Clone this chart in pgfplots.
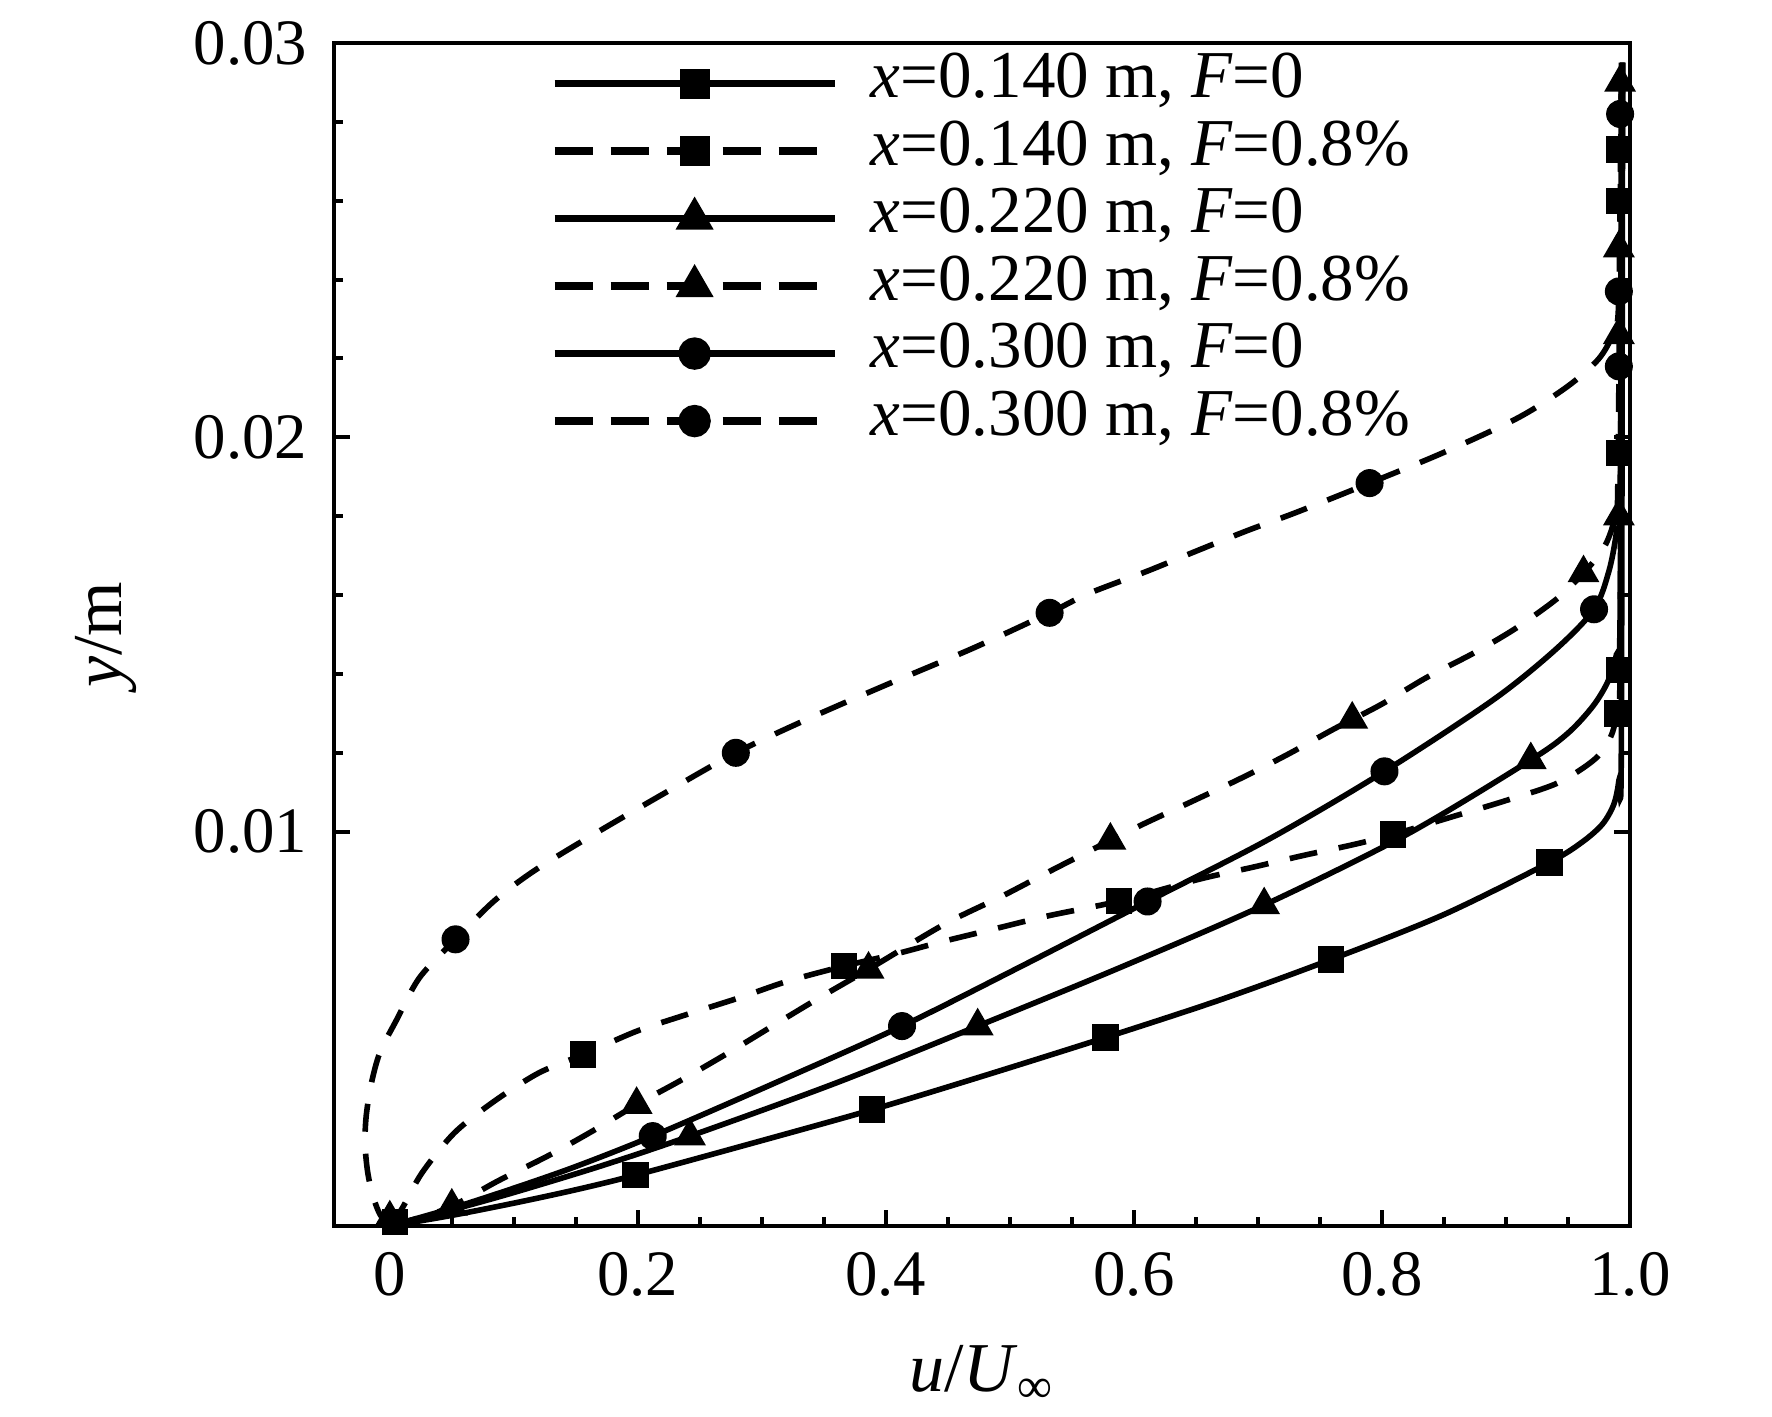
\documentclass[border=0pt]{standalone}
\usepackage{fontspec}
\setmainfont{Liberation Serif}
\usepackage{pgfplots}
\pgfplotsset{compat=1.18}
\usepackage{pgfplotstable}

% x=0.140 m, F=0
\pgfplotstableread{
u y
0 0
0.05 0.00027
0.10 0.00058
0.15 0.00092
0.198 0.00129
0.29 0.00208
0.389 0.00295
0.48 0.00382
0.577 0.00478
0.67 0.00574
0.759 0.00676
0.85 0.00790
0.935 0.00922
0.962 0.00975
0.978 0.01020
0.987 0.01070
0.991 0.01130
0.993 0.01220
0.994 0.02950
}\curveA
\pgfplotstableread{
u y
0.004 0.00010
0.198 0.00129
0.389 0.00295
0.577 0.00478
0.759 0.00676
0.935 0.00922
0.990 0.0130
0.991 0.0196
}\marksA

% x=0.140 m, F=0.8%
\pgfplotstableread{
u y
0 0
0.010 0.00045
0.026 0.00135
0.052 0.00236
0.084 0.00316
0.120 0.00388
0.156 0.00435
0.199 0.00494
0.239 0.00536
0.282 0.00579
0.321 0.00621
0.366 0.00659
0.408 0.00690
0.444 0.00720
0.483 0.00750
0.530 0.00786
0.588 0.00824
0.652 0.00879
0.696 0.00910
0.737 0.00940
0.778 0.00968
0.809 0.00993
0.860 0.01041
0.901 0.01080
0.942 0.01124
0.972 0.01185
0.985 0.01245
0.990 0.01320
0.992 0.01450
0.993 0.02950
}\curveB
\pgfplotstableread{
u y
0.156 0.00435
0.366 0.00659
0.588 0.00824
0.809 0.00993
0.991 0.0141
0.991 0.0260
0.991 0.0273
}\marksB

% x=0.220 m, F=0
\pgfplotstableread{
u y
0 0
0.05 0.00041
0.10 0.00085
0.17 0.00152
0.242 0.00228
0.36 0.00363
0.474 0.00507
0.59 0.00657
0.705 0.00814
0.82 0.00993
0.920 0.01182
0.950 0.01250
0.970 0.01318
0.982 0.01380
0.989 0.01449
0.992 0.01550
0.994 0.02950
}\curveC
\pgfplotstableread{
u y
0.000 0.0002
0.242 0.00228
0.474 0.00507
0.705 0.00814
0.920 0.01182
0.991 0.0226
0.992 0.0290
}\marksC

% x=0.220 m, F=0.8%
\pgfplotstableread{
u y
0 0
0.025 0.00022
0.05 0.0005
0.087 0.00114
0.127 0.00177
0.163 0.00240
0.199 0.00308
0.235 0.00370
0.275 0.00443
0.310 0.00510
0.347 0.00580
0.386 0.00651
0.447 0.00765
0.494 0.00837
0.533 0.00901
0.581 0.00978
0.608 0.01020
0.647 0.01077
0.686 0.01135
0.724 0.01196
0.761 0.01260
0.799 0.01322
0.836 0.01391
0.874 0.01453
0.908 0.01516
0.942 0.01593
0.9625 0.01656
0.978 0.01715
0.986 0.01775
0.990 0.01850
0.993 0.02950
}\curveD
\pgfplotstableread{
u y
0.05 0.0005
0.199 0.00308
0.386 0.00651
0.581 0.00978
0.776 0.01285
0.9625 0.01656
0.991 0.0180
0.991 0.0248
}\marksD

% x=0.300 m, F=0
\pgfplotstableread{
u y
0 0
0.05 0.00045
0.10 0.00096
0.15 0.00151
0.212 0.00228
0.31 0.00362
0.413 0.00507
0.51 0.00660
0.611 0.00823
0.71 0.00983
0.802 0.01153
0.89 0.01335
0.940 0.01462
0.971 0.01564
0.983 0.01661
0.989 0.01758
0.992 0.01860
0.994 0.02950
}\curveE
\pgfplotstableread{
u y
0.212 0.00228
0.413 0.00507
0.611 0.00823
0.802 0.01153
0.971 0.01564
0.991 0.0218
0.992 0.0282
}\marksE

% x=0.300 m, F=0.8%
\pgfplotstableread{
u y
0 0
-0.008 0.0003
-0.014 0.0008
-0.018 0.0014
-0.020 0.0021
-0.019 0.0028
-0.015 0.0036
-0.008 0.0044
0.005 0.0052
0.024 0.0063
0.053 0.00727
0.084 0.00824
0.116 0.00900
0.16 0.00985
0.22 0.01095
0.279 0.01200
0.34 0.01290
0.40 0.01372
0.47 0.01465
0.532 0.01555
0.5635 0.01604
0.611 0.01661
0.649 0.01710
0.691 0.01763
0.732 0.01811
0.790 0.01884
0.85 0.01962
0.91 0.02050
0.950 0.02130
0.975 0.02200
0.987 0.02270
0.991 0.02360
0.993 0.02950
}\curveF
\pgfplotstableread{
u y
0.053 0.00727
0.279 0.0120
0.532 0.01555
0.790 0.01884
0.991 0.0237
}\marksF

\begin{document}
\begin{tikzpicture}
\path[use as bounding box] (-83.5pt,-47.5pt) rectangle (359.5pt,306.5pt);
\begin{axis}[
  at={(0pt,0pt)}, anchor=south west,
  scale only axis, width=324pt, height=295.75pt,
  xmin=-0.045, xmax=1.0, ymin=0, ymax=0.03,
  axis line style={line width=1.1pt},
  every tick/.style={black, line width=1pt},
  major tick length=4pt, minor tick length=2.2pt,
  tick align=inside,
  xtick={0,0.2,0.4,0.6,0.8,1.0},
  xticklabels={0,0.2,0.4,0.6,0.8,1.0},
  ytick={0.01,0.02,0.03},
  yticklabels={0.01,0.02,0.03},
  scaled y ticks=false, scaled x ticks=false,
  minor x tick num=3, minor y tick num=4,
  xtick pos=left, ytick pos=both,
  ticklabel style={font=\fontsize{16.2}{19}\selectfont},
  xticklabel style={anchor=base, yshift=-17.25pt, inner sep=0pt},
  yticklabel style={anchor=east, xshift=-6.5pt, inner sep=0pt},
  xlabel={\textit{u}/\textit{U}\textsubscript{∞}},
  ylabel={\textit{y}/m},
  label style={font=\fontsize{17.5}{20}\selectfont},
  xlabel style={at={(axis description cs:0.5,-0.14)}, anchor=base},
  ylabel style={at={(axis description cs:-0.1636,0.5)}, anchor=base},
  legend cell align=left,
  legend style={at={(axis description cs:0,1)}, anchor=north west,
    xshift=54pt, yshift=-1.5pt, draw=none, fill=none, inner sep=0pt,
    font=\fontsize{16.75}{20}\selectfont, row sep=0pt,
    nodes={inner sep=0pt, text height=12pt, text depth=4.875pt},
    /tikz/every odd column/.append style={column sep=8.1pt}},
  legend image code/.code={\draw[mark repeat=2,mark phase=2,#1] plot coordinates {(0pt,0pt) (35pt,0pt) (70pt,0pt)};},
]
% curves
\addplot[black, line width=1.4pt, smooth, forget plot] table[x=u,y=y]{\curveA};
\addplot[black, line width=1.4pt, smooth, dash pattern=on 7pt off 5.5pt, forget plot] table[x=u,y=y]{\curveB};
\addplot[black, line width=1.4pt, smooth, forget plot] table[x=u,y=y]{\curveC};
\addplot[black, line width=1.4pt, smooth, dash pattern=on 7pt off 5.5pt, forget plot] table[x=u,y=y]{\curveD};
\addplot[black, line width=1.4pt, smooth, forget plot] table[x=u,y=y]{\curveE};
\addplot[black, line width=1.4pt, smooth, dash pattern=on 7pt off 5.5pt, forget plot] table[x=u,y=y]{\curveF};
% markers
\addplot[black, only marks, mark=square*, mark size=3.1pt, forget plot] table[x=u,y=y]{\marksA};
\addplot[black, only marks, mark=square*, mark size=3.1pt, forget plot] table[x=u,y=y]{\marksB};
\addplot[black, only marks, mark=triangle*, mark size=4.2pt, forget plot] table[x=u,y=y]{\marksC};
\addplot[black, only marks, mark=triangle*, mark size=4.2pt, forget plot] table[x=u,y=y]{\marksD};
\addplot[black, only marks, mark=*, mark size=3.3pt, forget plot] table[x=u,y=y]{\marksE};
\addplot[black, only marks, mark=*, mark size=3.3pt, forget plot] table[x=u,y=y]{\marksF};
% legend
\addlegendimage{black, line width=1.9pt, mark=square*, mark size=2.8pt, mark options={solid}}
\addlegendentry{\textit{x}=0.140 m, \textit{F}=0}
\addlegendimage{black, line width=1.9pt, dash pattern=on 9.5pt off 4.5pt, mark=square*, mark size=2.8pt, mark options={solid}}
\addlegendentry{\textit{x}=0.140 m, \textit{F}=0.8\%}
\addlegendimage{black, line width=1.9pt, mark=triangle*, mark size=3.6pt, mark options={solid}}
\addlegendentry{\textit{x}=0.220 m, \textit{F}=0}
\addlegendimage{black, line width=1.9pt, dash pattern=on 9.5pt off 4.5pt, mark=triangle*, mark size=3.6pt, mark options={solid}}
\addlegendentry{\textit{x}=0.220 m, \textit{F}=0.8\%}
\addlegendimage{black, line width=1.9pt, mark=*, mark size=3.1pt, mark options={solid}}
\addlegendentry{\textit{x}=0.300 m, \textit{F}=0}
\addlegendimage{black, line width=1.9pt, dash pattern=on 9.5pt off 4.5pt, mark=*, mark size=3.1pt, mark options={solid}}
\addlegendentry{\textit{x}=0.300 m, \textit{F}=0.8\%}
\end{axis}
\end{tikzpicture}
\end{document}
